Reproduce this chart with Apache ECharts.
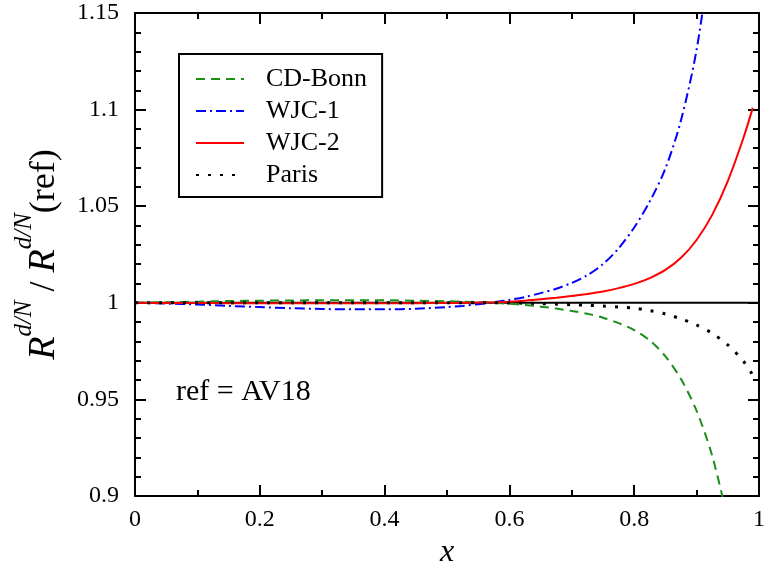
<!DOCTYPE html>
<html><head><meta charset="utf-8">
<script src="https://cdn.jsdelivr.net/npm/echarts@6/dist/echarts.min.js"></script>
<style>html,body{margin:0;padding:0;background:#fff}#c{width:764px;height:562px}</style>
</head><body><div id="c"></div>
<script>
var xs = [0, 0.05, 0.1, 0.15, 0.2, 0.25, 0.3, 0.35, 0.4, 0.45, 0.5, 0.525, 0.55, 0.575, 0.6, 0.625, 0.65, 0.675, 0.7, 0.725, 0.75, 0.775, 0.8, 0.825, 0.85, 0.875, 0.9, 0.925, 0.95, 0.975, 0.99];
var cdBonn = [1.0, 1.0003, 1.0006, 1.0009, 1.0011, 1.0012, 1.0013, 1.0013, 1.0013, 1.0011, 1.0008, 1.0006, 1.0003, 0.9999, 0.9995, 0.9988, 0.998, 0.997, 0.9958, 0.9943, 0.9923, 0.9895, 0.9859, 0.9805, 0.9723, 0.9605, 0.9441, 0.9208, 0.8877, null, null];
var wjc1 = [1.0, 0.9996, 0.9991, 0.9984, 0.9978, 0.9972, 0.9968, 0.9966, 0.9966, 0.9969, 0.9978, 0.9984, 0.9993, 1.0003, 1.0015, 1.003, 1.005, 1.0073, 1.0103, 1.0143, 1.0200, 1.0282, 1.039, 1.0525, 1.0695, 1.0945, 1.131, 1.186, null, null, null];
var wjc2 = [1.0, 0.9999, 0.9999, 0.9998, 0.9998, 0.9998, 0.9998, 0.9998, 0.9998, 0.9998, 0.9999, 1.0, 1.0001, 1.0003, 1.0006, 1.0011, 1.0018, 1.0026, 1.0035, 1.0046, 1.0059, 1.0076, 1.0098, 1.0128, 1.017, 1.0233, 1.0325, 1.0455, 1.063, 1.0853, 1.1009];
var paris = [1.0, 1.0, 1.0, 1.0, 1.0, 1.0, 1.0, 1.0, 1.0, 1.0, 1.0, 1.0, 1.0, 1.0, 0.9999, 0.9998, 0.9996, 0.9993, 0.999, 0.9987, 0.9983, 0.9978, 0.9972, 0.996, 0.9942, 0.9917, 0.9885, 0.9842, 0.9782, 0.9698, 0.9626];
var refLine = [[0, 1], [1, 1]];
var xTicks = [0, 0.2, 0.4, 0.6, 0.8, 1];
var yTicks = [0.9, 0.95, 1, 1.05, 1.1, 1.15];

function pairs(ys) {
  var out = [];
  for (var i = 0; i < xs.length; i++) if (ys[i] !== null) out.push([xs[i], ys[i]]);
  return out;
}
var FONT = 'Liberation Serif';
var chart = echarts.init(document.getElementById('c'));
function fmt(v) { return String(parseFloat(v.toFixed(2))); }
function axisBase(extra) {
  var a = {
    type: 'value',
    axisLine: { show: true, onZero: false, lineStyle: { color: '#000', width: 2 } },
    axisTick: { show: true, inside: true, length: 11, lineStyle: { color: '#000', width: 2 } },
    splitLine: { show: false },
    axisLabel: { show: false }
  };
  for (var k in extra) a[k] = extra[k];
  return a;
}
var xMinor = { show: true, splitNumber: 2, length: 6, lineStyle: { color: '#000', width: 2 } };
var yMinor = { show: true, splitNumber: 5, length: 6, lineStyle: { color: '#000', width: 2 } };
var option = {
  animation: false,
  backgroundColor: '#fff',
  grid: { left: 135, right: 5, top: 13, bottom: 66, containLabel: false, outerBoundsMode: 'none' },
  xAxis: [
    axisBase({ position: 'bottom', min: xTicks[0], max: xTicks[xTicks.length - 1], interval: 0.2,
      minorTick: xMinor,
      axisLabel: { show: true, color: '#000', fontFamily: FONT, fontSize: 24, margin: 12, formatter: fmt },
      name: 'x', nameLocation: 'middle', nameGap: 30,
      nameTextStyle: { fontFamily: FONT, fontSize: 32, fontStyle: 'italic', color: '#000' } }),
    axisBase({ position: 'top', min: xTicks[0], max: xTicks[xTicks.length - 1], interval: 0.2, minorTick: xMinor })
  ],
  yAxis: [
    axisBase({ position: 'left', min: yTicks[0], max: yTicks[yTicks.length - 1], interval: 0.05,
      minorTick: yMinor,
      axisLabel: { show: true, color: '#000', fontFamily: FONT, fontSize: 24, margin: 16, formatter: fmt },
      name: '{r|R}{s|d/N}{n| / }{r|R}{s|d/N}{n|(ref)}', nameLocation: 'middle', nameGap: 72, nameRotate: 90,
      nameTextStyle: { color: '#000', fontFamily: FONT,
        rich: {
          r: { fontFamily: FONT, fontSize: 38, fontStyle: 'italic', color: '#000', verticalAlign: 'bottom', lineHeight: 38 },
          s: { fontFamily: FONT, fontSize: 25, fontStyle: 'italic', color: '#000', verticalAlign: 'bottom', lineHeight: 25, padding: [0, 0, 26, 0] },
          n: { fontFamily: FONT, fontSize: 36, color: '#000', verticalAlign: 'bottom', lineHeight: 38 }
        } } }),
    axisBase({ position: 'right', min: yTicks[0], max: yTicks[yTicks.length - 1], interval: 0.05, minorTick: yMinor })
  ],
  legend: {
    orient: 'vertical', left: 179, top: 54,
    data: ['CD-Bonn', 'WJC-1', 'WJC-2', 'Paris'],
    borderColor: '#000', borderWidth: 2, borderRadius: 0,
    padding: [12, 15, 9, 16],
    itemWidth: 48, itemHeight: 14, itemGap: 6,
    itemStyle: { opacity: 0 },
    textStyle: { fontFamily: FONT, fontSize: 26, color: '#000', padding: [0, 0, 0, 17], lineHeight: 26 },
    backgroundColor: '#fff'
  },
  graphic: [{
    type: 'text', left: 176, top: 377,
    style: { text: 'ref = AV18', fontFamily: FONT, fontSize: 30, fill: '#000' }
  }],
  series: [
    { name: 'ref', type: 'line', data: refLine, symbol: 'none', lineStyle: { color: '#000', width: 2 }, silent: true, z: 1 },
    { name: 'CD-Bonn', type: 'line', data: pairs(cdBonn), symbol: 'none', smooth: 0.3,
      itemStyle: { color: '#1a8f1a' }, lineStyle: { color: '#1a8f1a', width: 2, type: [9, 6] } },
    { name: 'WJC-1', type: 'line', data: pairs(wjc1), symbol: 'none', smooth: 0.3,
      itemStyle: { color: '#0000ff' }, lineStyle: { color: '#0000ff', width: 2, type: [10, 4, 2, 4] } },
    { name: 'WJC-2', type: 'line', data: pairs(wjc2), symbol: 'none', smooth: 0.3,
      itemStyle: { color: '#ff0000' }, lineStyle: { color: '#ff0000', width: 2 } },
    { name: 'Paris', type: 'line', data: pairs(paris), symbol: 'none', smooth: 0.3,
      itemStyle: { color: '#000' }, lineStyle: { color: '#000', width: 3, type: [3, 9] } }
  ]
};
chart.setOption(option);
</script></body></html>
